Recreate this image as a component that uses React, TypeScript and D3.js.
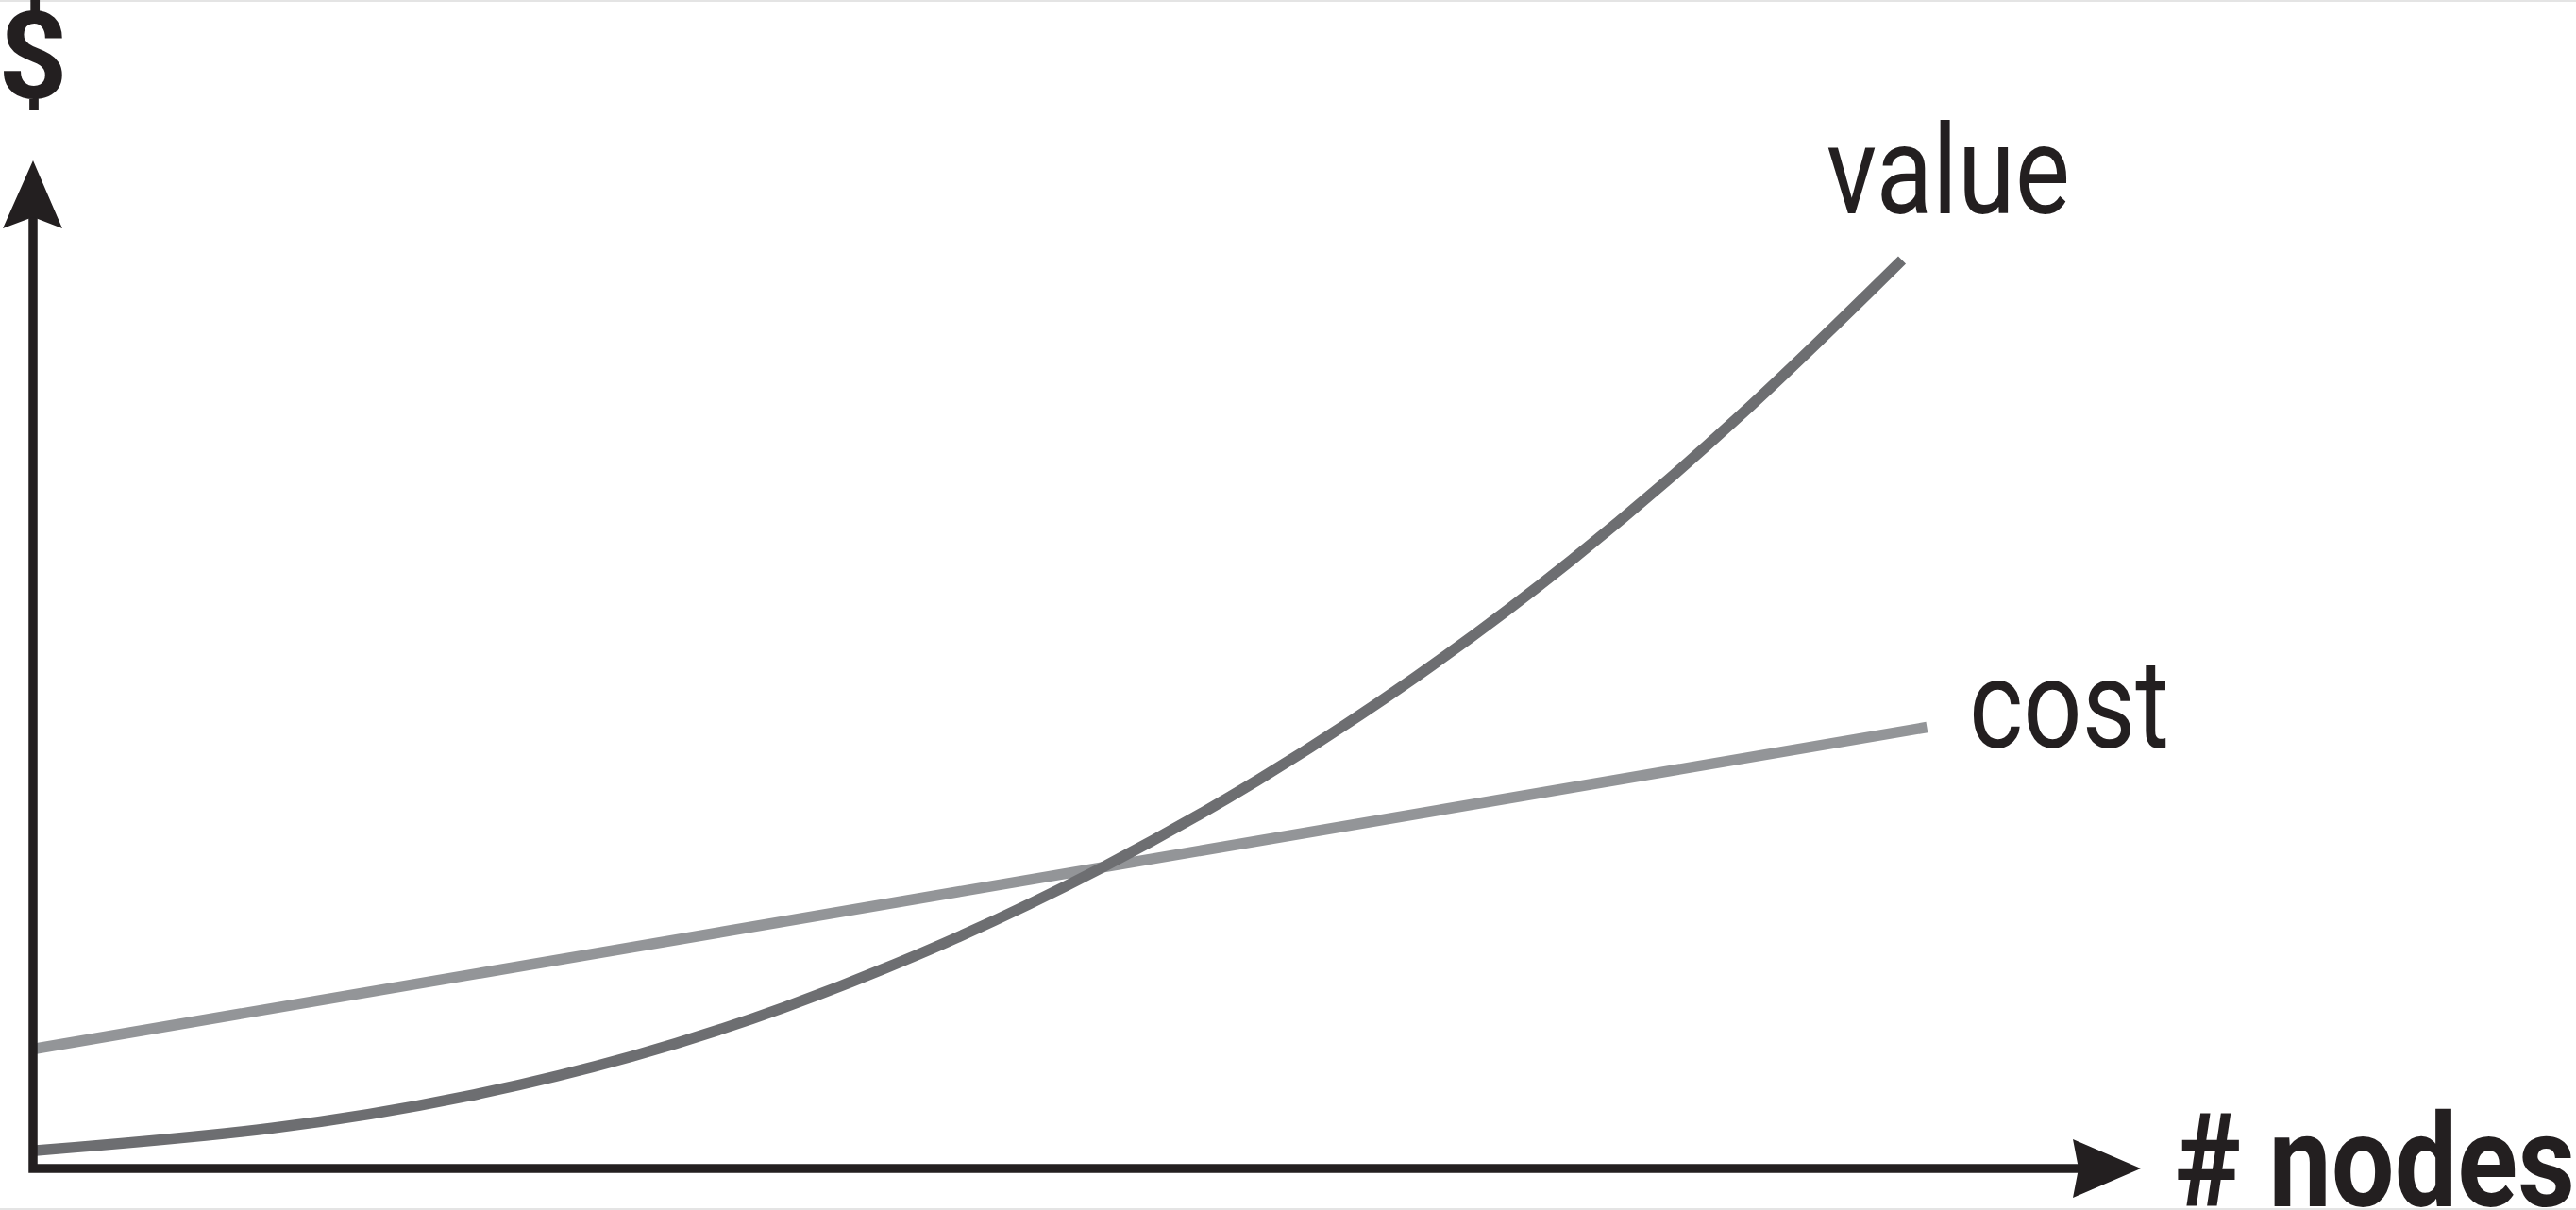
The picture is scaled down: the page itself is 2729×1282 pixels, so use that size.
import React from 'react';
import * as d3 from 'd3';

// Chart data (x = # nodes, y = $, arbitrary units 0..100)
const valueX = [0, 12, 21, 29, 36, 44, 51.5, 59, 66.5, 74, 82, 90];
const valueY = [1.7, 3.7, 6.8, 10.7, 15.2, 21.6, 28.8, 37.2, 47.0, 58.2, 71.8, 87.5];
const costX = [0, 91.2];
const costY = [11.5, 42.5];

const seriesLabels = ['value', 'cost'];
const axisLabels = ['$', '# nodes'];

const WIDTH = 2729;
const HEIGHT = 1282;

const INK = '#231f20';
const VALUE_COLOR = '#6d6e71';
const COST_COLOR = '#939598';
const FONT = "Roboto, 'Liberation Sans', sans-serif";

const App = () => {
  // Get the axis scales.
  const xScale = d3.scaleLinear().domain([0, 100]).range([35, 2235]);
  const yScale = d3.scaleLinear().domain([0, 100]).range([1238, 138]);

  // B-spline smooths out small reading errors in the points
  const line = d3
    .line<[number, number]>()
    .x((d) => xScale(d[0]))
    .y((d) => yScale(d[1]))
    .curve(d3.curveBasis);

  const valuePts = valueX.map((x, i) => [x, valueY[i]] as [number, number]);
  const costPts = costX.map((x, i) => [x, costY[i]] as [number, number]);

  const x0 = xScale(0);
  const y0 = yScale(0);

  // axis arrow heads
  const upTip = 170;
  const rightTip = 2268;

  return (
    <svg
      width={WIDTH}
      height={HEIGHT}
      style={{ position: 'absolute', left: 0, top: 0, background: '#fff' }}
    >
      {/* faint frame rules of the original image */}
      <rect x={0} y={0} width={WIDTH} height={2} fill="#e4e4e4" />
      <rect x={0} y={HEIGHT - 2} width={WIDTH} height={2} fill="#e4e4e4" />

      {/* series */}
      <path d={line(costPts) || ''} fill="none" stroke={COST_COLOR} strokeWidth={11.5} />
      <path d={line(valuePts) || ''} fill="none" stroke={VALUE_COLOR} strokeWidth={11.5} />

      {/* axes */}
      <path
        d={`M${x0},${upTip + 60} L${x0},${y0} L${rightTip - 66},${y0}`}
        fill="none"
        stroke={INK}
        strokeWidth={9.5}
        strokeLinejoin="miter"
      />
      <path
        d={`M${x0},${upTip} L${x0 + 31},${upTip + 72} L${x0},${upTip + 60} L${x0 - 32},${upTip + 72} Z`}
        fill={INK}
      />
      <path
        d={`M${rightTip},${y0} L${rightTip - 72},${y0 - 31} L${rightTip - 66},${y0} L${rightTip - 72},${y0 + 31} Z`}
        fill={INK}
      />

      {/* axis labels */}
      <text x={x0} y={104} textAnchor="middle" fontFamily={FONT} fontWeight="bold" fontSize={128} fill={INK}>
        {axisLabels[0]}
      </text>
      <text
        x={2304}
        y={1278}
        fontFamily={FONT}
        fontWeight="bold"
        fontSize={138}
        fill={INK}
        textLength={424}
        lengthAdjust="spacingAndGlyphs"
      >
        {axisLabels[1]}
      </text>

      {/* series labels */}
      <text
        x={1935}
        y={226}
        fontFamily={FONT}
        fontSize={132}
        fill={INK}
        textLength={258}
        lengthAdjust="spacingAndGlyphs"
      >
        {seriesLabels[0]}
      </text>
      <text
        x={2086}
        y={792}
        fontFamily={FONT}
        fontSize={132}
        fill={INK}
        textLength={212}
        lengthAdjust="spacingAndGlyphs"
      >
        {seriesLabels[1]}
      </text>
    </svg>
  );
};

export default App;
